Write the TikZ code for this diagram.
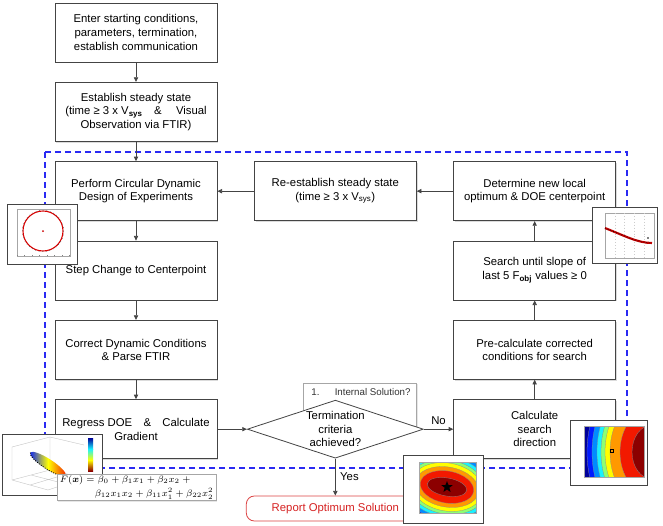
\documentclass[tikz,border=0pt]{standalone}
\usepackage{amsmath}
\usepackage{fontspec}
\setmainfont{Liberation Sans}
\usetikzlibrary{shapes.geometric,arrows.meta,shadows}

\definecolor{linegray}{HTML}{444444}
\definecolor{loopblue}{HTML}{2A2AF2}
\definecolor{reportred}{HTML}{D62222}
\definecolor{jetA}{rgb}{0,0,0.6}
\definecolor{jetB}{rgb}{0,0.1,1}
\definecolor{jetC}{rgb}{0,0.55,1}
\definecolor{jetD}{rgb}{0.1,0.95,1}
\definecolor{jetE}{rgb}{0.55,1,0.45}
\definecolor{jetF}{rgb}{1,1,0}
\definecolor{jetG}{rgb}{1,0.6,0}
\definecolor{jetH}{rgb}{0.95,0.1,0}
\definecolor{jetI}{rgb}{0.55,0,0}

\tikzset{
  box/.style={draw=linegray, fill=white, line width=0.6pt,
    minimum width=121.5pt, minimum height=44.25pt, align=center,
    font=\fontsize{8.5}{10.3}\selectfont,
    drop shadow={shadow xshift=1pt, shadow yshift=-1pt, fill=black!40, opacity=0.35}},
  decision/.style={diamond, draw=linegray, fill=white, line width=0.6pt,
    shape aspect=3, inner sep=0pt, minimum width=132pt, minimum height=43.5pt,
    align=center, font=\fontsize{8.5}{10.3}\selectfont},
  flow/.style={draw=linegray, line width=0.6pt, -{Triangle[length=3.5pt,width=3.2pt]}},
  thumb/.style={draw=linegray, fill=white, line width=0.6pt,
    drop shadow={shadow xshift=1pt, shadow yshift=-1pt, fill=black!40, opacity=0.35}},
  axesbox/.style={draw=gray!70, line width=0.3pt},
}

\begin{document}
\begin{tikzpicture}[x=0.75pt, y=-0.75pt, node distance=59.5pt, auto,
    font=\fontsize{8.5}{10.3}\selectfont]
  \useasboundingbox (0,0) rectangle (663,525);

  % optimisation loop
  \draw[loopblue, line width=1.2pt, dash pattern=on 4.5pt off 3pt] (45,152) rectangle (627,468);

  \node (start) [box] at (136,32.5) {Enter starting conditions,\\parameters, termination,\\establish communication};
  \node (steady) [box, below of=start] {Establish steady state\\(time ≥ 3 x V\textsubscript{\textbf{sys}}\quad\&\quad\ Visual\\Observation via FTIR)};
  \node (cddoe) [box, below of=steady] {Perform Circular Dynamic\\Design of Experiments};
  \node (step) [box, below of=cddoe] {Step Change to Centerpoint};
  \node (correct) [box, below of=step] {Correct Dynamic Conditions\\\& Parse FTIR};
  \node (regress) [box, below of=correct] {Regress DOE\quad\&\quad Calculate\\Gradient};

  \node (note) [draw=gray!70, fill=white, anchor=north, minimum width=84.75pt, minimum height=32.5pt,
    drop shadow={shadow xshift=0.8pt, shadow yshift=-0.8pt, opacity=0.2}] at (360,383) {};
  \node (notetext) [anchor=north, text=black!80, font=\fontsize{7.3}{9}\selectfont, inner sep=2pt] at (361,386) {1.\quad\ \ Internal Solution?};

  \node (term) [decision, right of=regress, node distance=149.5pt] {Termination\\criteria\\achieved?};
  \node (calc) [box, right of=term, node distance=149.5pt] {Calculate\\search\\direction};
  \node (precalc) [box, above of=calc] {Pre-calculate corrected\\conditions for search};
  \node (search) [box, above of=precalc] {Search until slope of\\last 5 F\textsubscript{\textbf{obj}} values ≥ 0};
  \node (newopt) [box, above of=search] {Determine new local\\optimum \& DOE centerpoint};
  \node (restead) [box, left of=newopt, node distance=149.5pt] {Re-establish steady state\\(time ≥ 3 x V\textsubscript{sys})};
  \node (report) [draw=reportred!85, line width=0.6pt, fill=white, rounded corners=6pt, text=reportred,
    minimum width=133.5pt, minimum height=18.75pt, below of=term] {Report Optimum Solution};

  \draw[flow] (start) to (steady);
  \draw[flow] (steady) to (cddoe);
  \draw[flow] (cddoe) to (step);
  \draw[flow] (step) to (correct);
  \draw[flow] (correct) to (regress);
  \draw[flow] (regress) to (term);
  \draw[flow] (term) to node {No} (calc);
  \draw[flow] (calc) to (precalc);
  \draw[flow] (precalc) to (search);
  \draw[flow] (search) to (newopt);
  \draw[flow] (newopt) to (restead);
  \draw[flow] (restead) to (cddoe);
  \draw[flow] (term) to node {Yes} (report);

  % circular DOE plot
  \draw[thumb] (7,204) rectangle (77,264);
  \draw[axesbox] (17,209) rectangle (70,256);
  \foreach \t in {0,...,7} \draw[gray, line width=0.3pt] (17+\t*7.5,256) -- ++(0,-1.5);
  \draw[red!85!black, line width=0.8pt] (43,231) circle [radius=20];
  \draw[black!70, line width=0.4pt, dash pattern=on 0.5pt off 2.2pt] (43,231) circle [radius=20.7];
  \fill[red!80!black] (43,231) circle [radius=1];

  % objective decay plot
  \draw[thumb] (592,207) rectangle (657,263);
  \draw[axesbox] (605,213) rectangle (654,258);
  \foreach \t in {1,...,4} \draw[gray!40, line width=0.2pt, dotted] (605+\t*9.8,213) -- ++(0,45);
  \draw[red!75!black, line width=1.6pt] (605,228) .. controls (625,236) and (638,243) .. (652,243);
  \draw[black, line width=0.4pt, dash pattern=on 0.6pt off 1.6pt] (605,228) .. controls (625,236) and (638,243) .. (652,243);
  \fill (648,238) circle [radius=0.8];

  % regression surface plot
  \draw[thumb] (2,434) rectangle (102,495);
  \draw[gray!45, line width=0.3pt] (12,447) -- (12,480) -- (48,490) -- (84,478)
    (12,480) -- (50,470) -- (84,478) (50,470) -- (50,437) (12,447) -- (50,437) -- (84,445)
    (30,485) -- (67,474) (31,475) -- (66,484);
  \shade[rotate around={-33:(48,464)}, left color=jetB, right color=jetH, middle color=jetF]
    (48,464) ellipse [x radius=21, y radius=5];
  \draw[black, line width=0.6pt, dash pattern=on 0.8pt off 1pt, rotate around={-33:(48,464)}]
    (27,464) arc [start angle=180, end angle=0, x radius=21, y radius=5];
  \shade[top color=jetA, bottom color=jetD] (88,438) rectangle (93,449);
  \shade[top color=jetD, bottom color=jetF] (88,449) rectangle (93,460);
  \shade[top color=jetF, bottom color=jetI] (88,460) rectangle (93,471);

  \node (formula) [draw=gray!70, fill=white, anchor=north west, align=left, text width=115pt,
    inner xsep=2pt, inner ysep=1pt, font=\fontsize{6.6}{8}\selectfont,
    drop shadow={shadow xshift=0.8pt, shadow yshift=-0.8pt, opacity=0.2}] at (57,474)
    {$F(\boldsymbol{x})=\beta_0+\beta_1x_1+\beta_2x_2+{}$\\[2.5pt]\hspace*{\fill}$\beta_{12}x_1x_2+\beta_{11}x_1^2+\beta_{22}x_2^2$};

  % optimum contour plot
  \draw[thumb] (403,455) rectangle (483,523);
  \begin{scope}
    \clip (419,462) rectangle (476,513);
    \fill[jetA] (419,462) rectangle (476,513);
    \foreach \rx/\ry/\c in {52/37/jetB, 47/33/jetC, 43/30/jetD, 39/27/jetE, 36/24/jetF, 32/20/jetG, 27/16/jetH, 20/9/jetI}
      \filldraw[fill=\c, draw=black!45, line width=0.2pt, rotate around={-10:(447,487)}]
        (447,487) ellipse [x radius=\rx, y radius=\ry];
  \end{scope}
  \draw[axesbox] (419,462) rectangle (476,513);
  \node (optstar) [star, star points=5, star point ratio=2.4, fill=black, minimum size=9pt, inner sep=0pt] at (447,487) {};

  % search direction contour plot
  \draw[thumb] (570,420) rectangle (647,485);
  \begin{scope}
    \clip (584,426) rectangle (644,477);
    \fill[jetA] (584,426) rectangle (644,477);
    \foreach \rx/\c in {65/jetB, 60/jetC, 55/jetD, 51/jetE, 47/jetF, 42/jetG, 32/jetH, 20/jetI}
      \filldraw[fill=\c, draw=black!45, line width=0.2pt] (652,452) ellipse [x radius=\rx, y radius=1.35*\rx];
  \end{scope}
  \draw[axesbox] (584,426) rectangle (644,477);
  \draw[black, line width=0.5pt] (610.5,449.5) rectangle (613.5,452.5);
\end{tikzpicture}
\end{document}
